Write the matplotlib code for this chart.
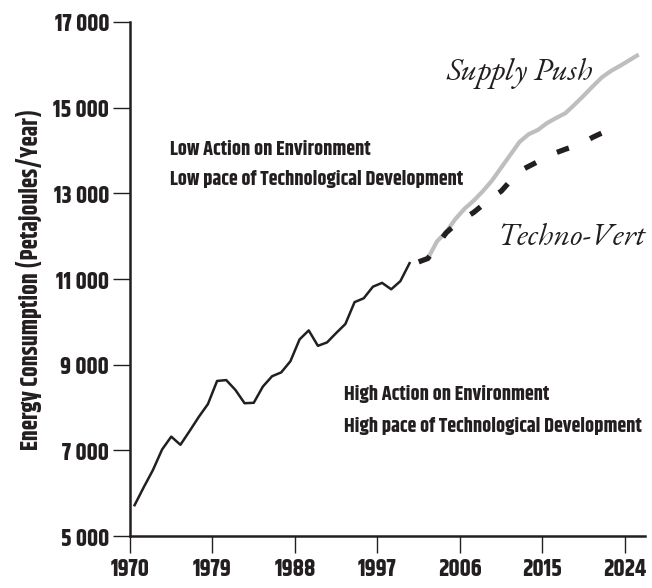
import numpy as np
import matplotlib
matplotlib.use('Agg')
import matplotlib.pyplot as plt
from matplotlib import font_manager as fm

# data (points sit at mid-year)
hist_years = list(range(1970, 2001))
hist_vals = [5720, 6140, 6540, 7020, 7320, 7130, 7450, 7780, 8080, 8620,
             8640, 8410, 8100, 8110, 8490, 8730, 8820, 9080, 9590, 9800,
             9440, 9520, 9740, 9950, 10460, 10550, 10820, 10910, 10760, 10950,
             11370]

push_years = list(range(2002, 2026))
push_vals = [11480, 11880, 12100, 12400, 12640, 12830, 13050, 13300, 13600, 13900,
             14200, 14380, 14480, 14640, 14760, 14870, 15070, 15280, 15500, 15710,
             15860, 15980, 16110, 16240]

vert_years = list(range(2001, 2024))
vert_vals = [11400, 11480, 11790, 12080, 12270, 12420, 12555, 12730, 12905, 13050,
             13290, 13520, 13630, 13740, 13850, 13950, 14030, 14100, 14190, 14310,
             14410, 14520, 14570]

x_ticks = [1970, 1979, 1988, 1997, 2006, 2015, 2024]
y_ticks = [5000, 7000, 9000, 11000, 13000, 15000, 17000]


def pick(cands, default):
    names = {f.name for f in fm.fontManager.ttflist}
    for c in cands:
        if c in names:
            return c
    return default


narrow = pick(['Khand', 'Saira Condensed', 'Barlow Condensed',
               'Liberation Sans Narrow'], 'DejaVu Sans')
serif = pick(['EB Garamond', 'Cormorant Garamond', 'Liberation Serif'], 'DejaVu Serif')
ink = '#231f20'

fig = plt.figure(figsize=(6.52, 5.88), dpi=100)
ax = fig.add_axes([0.1994, 0.0884, 0.79, 0.8742])

ax.plot(np.array(hist_years) + 0.5, hist_vals, color=ink, lw=1.8, zorder=3)
ax.plot(np.array(push_years) + 0.5, push_vals, color='#bcbec0', lw=3.0,
        solid_capstyle='butt', zorder=2)
ln, = ax.plot(np.array(vert_years) + 0.5, vert_vals, color=ink, lw=3.8,
              dash_capstyle='butt', zorder=4)
ln.set_dashes((2.4, 4.4))

ax.set_xlim(1970, 2026.2)
ax.set_ylim(5000, 17000)
ax.set_xticks(x_ticks)
ax.set_yticks(y_ticks)
ax.set_yticklabels([f'{v:,}'.replace(',', ' ') for v in y_ticks])

for s in ['top', 'right']:
    ax.spines[s].set_visible(False)
for s in ['left', 'bottom']:
    ax.spines[s].set_linewidth(1.8)
    ax.spines[s].set_color(ink)

ax.tick_params(length=12, width=1.0, color=ink, pad=3, labelsize=17)
for lab in ax.get_xticklabels() + ax.get_yticklabels():
    lab.set_fontfamily(narrow)
    lab.set_fontweight('bold')
    lab.set_color(ink)

ax.set_ylabel('Energy Consumption (Petajoules/Year)', fontfamily=narrow,
              fontweight='bold', fontsize=17, color=ink, labelpad=8)

txt = dict(fontfamily=narrow, fontweight='bold', fontsize=14.5, color=ink,
           transform=ax.transAxes)
ax.text(0.078, 0.741, 'Low Action on Environment', **txt)
ax.text(0.078, 0.683, 'Low pace of Technological Development', **txt)
ax.text(0.4155, 0.2646, 'High Action on Environment', **txt)
ax.text(0.4155, 0.203, 'High pace of Technological Development', **txt)

lbl = dict(fontfamily=serif, style='italic', fontsize=23, color=ink,
           transform=ax.transAxes)
ax.text(0.615, 0.887, 'Supply Push', **lbl)
ax.text(0.712, 0.566, 'Techno-Vert', **lbl)

fig.savefig('out.png', dpi=100)
